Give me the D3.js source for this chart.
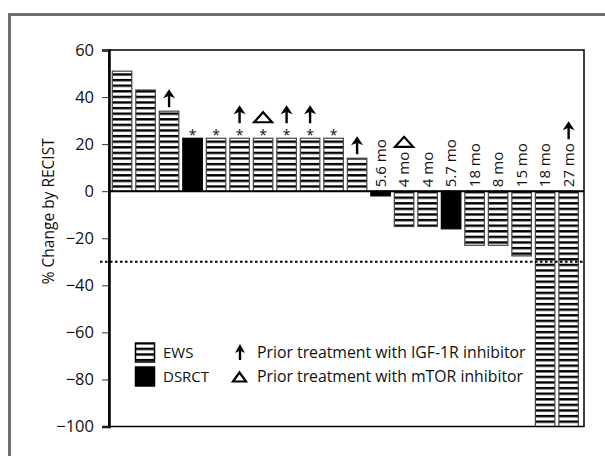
<!DOCTYPE html>
<html>
<head>
<meta charset="utf-8">
<script src="https://cdn.jsdelivr.net/npm/d3@7"></script>
<style>
  html, body { margin: 0; padding: 0; background: #fff; }
  svg { display: block; }
  text { font-family: "Open Sans", "Noto Sans", sans-serif; fill: #111; }
</style>
</head>
<body>
<svg id="chart" width="605" height="456"></svg>
<script>
// ---- data ----
const patients = ["1","2","3","4","5","6","7","8","9","10","11","12","13","14","15","16","17","18","19","20"];
const pctChange = [51, 43, 34, 22.5, 22.5, 22.5, 22.5, 22.5, 22.5, 22.5, 14, -2, -15, -15, -16, -23, -23, -27.5, -100, -100];
const tumorType = ["EWS","EWS","EWS","DSRCT","EWS","EWS","EWS","EWS","EWS","EWS","EWS","DSRCT","EWS","EWS","DSRCT","EWS","EWS","EWS","EWS","EWS"];
const duration = ["","","","","","","","","","","","5.6 mo","4 mo","4 mo","5.7 mo","18 mo","8 mo","15 mo","18 mo","27 mo"];
const asterisk = [0,0,0,1,1,1,1,1,1,1,0,0,0,0,0,0,0,0,0,0];
const priorIGF1R = [0,0,1,0,0,1,0,1,1,0,1,0,0,0,0,0,0,0,0,1];
const priorMTOR = [0,0,0,0,0,0,1,0,0,0,0,0,1,0,0,0,0,0,0,0];
const yTicks = [60, 40, 20, 0, -20, -40, -60, -80, -100];
const prThreshold = -30;
const yTitle = "% Change by RECIST";
const legendTypes = ["EWS", "DSRCT"];
const legendMarks = ["Prior treatment with IGF-1R inhibitor", "Prior treatment with mTOR inhibitor"];

(function () {
// ---- layout ----
const svg = d3.select("#chart");
const pLeft = 109, pRight = 584, pTop = 50, pBottom = 426.5;

const x = d3.scaleBand().domain(patients).range([pLeft, pRight])
  .paddingInner(0.17).paddingOuter(0.19).align(0.37);
const y = d3.scaleLinear().domain([-100, 60]).range([pBottom, pTop]);

// outer frame
svg.append("rect").attr("x", 9.5).attr("y", 14.5).attr("width", 640).attr("height", 500)
  .attr("fill", "none").attr("stroke", "#6e6e6e").attr("stroke-width", 3);

// stripe pattern
const defs = svg.append("defs");
const pat = defs.append("pattern").attr("id", "ews").attr("patternUnits", "userSpaceOnUse")
  .attr("width", 10).attr("height", 5.6).attr("y", 0.5);
pat.append("rect").attr("width", 10).attr("height", 5.6).attr("fill", "#fff");
pat.append("rect").attr("y", 0).attr("width", 10).attr("height", 2.4).attr("fill", "#000");

// bars
const data = patients.map((p, i) => ({p, v: pctChange[i], t: tumorType[i], d: duration[i],
  a: asterisk[i], igf: priorIGF1R[i], mtor: priorMTOR[i]}));

svg.append("g").selectAll("rect").data(data).join("rect")
  .attr("x", d => x(d.p))
  .attr("width", x.bandwidth())
  .attr("y", d => y(Math.max(0, d.v)))
  .attr("height", d => Math.abs(y(d.v) - y(0)))
  .attr("fill", d => d.t === "EWS" ? "url(#ews)" : "#000")
  .attr("stroke", d => d.t === "EWS" ? "#444" : "#000")
  .attr("stroke-width", 1.2);

// PR threshold dotted line
svg.append("line").attr("x1", 100).attr("x2", pRight).attr("y1", y(prThreshold)).attr("y2", y(prThreshold))
  .attr("stroke", "#000").attr("stroke-width", 2).attr("stroke-dasharray", "2.5,2.5");

// frame lines of plot
svg.append("rect").attr("x", pLeft).attr("y", pTop).attr("width", pRight - pLeft).attr("height", pBottom - pTop)
  .attr("fill", "none").attr("stroke", "#000").attr("stroke-width", 1.5);
svg.append("line").attr("x1", pLeft).attr("x2", pRight).attr("y1", y(0)).attr("y2", y(0))
  .attr("stroke", "#000").attr("stroke-width", 2);

// y axis
const yAxis = d3.axisLeft(y).tickValues(yTicks).tickSize(7).tickPadding(8)
  .tickFormat(d => d < 0 ? "\u2212" + Math.abs(d) : String(d));
const ga = svg.append("g").attr("transform", `translate(${pLeft},0)`).call(yAxis);
ga.select(".domain").attr("stroke", "#000").attr("stroke-width", 2.5);
ga.selectAll(".tick line").attr("stroke", "#333").attr("stroke-width", 1);
ga.selectAll(".tick text").attr("font-size", 16.5).attr("font-family", "'Open Sans', sans-serif").attr("fill", "#111");

svg.append("text").attr("transform", `translate(54,${(pTop + pBottom) / 2 - 27}) rotate(-90)`)
  .attr("text-anchor", "middle").attr("font-size", 15.5).text(yTitle);

// markers
function arrow(g, cx, yb, h, hw) {
  g.append("line").attr("x1", cx).attr("x2", cx).attr("y1", yb).attr("y2", yb - h + 6)
    .attr("stroke", "#000").attr("stroke-width", 2.4);
  g.append("path").attr("d", `M${cx - hw},${yb - h + 9}L${cx},${yb - h}L${cx + hw},${yb - h + 9}L${cx},${yb - h + 6.5}Z`).attr("fill", "#000");
}
function tri(g, cx, yb, w, h) {
  g.append("path").attr("d", `M${cx - w / 2},${yb}L${cx},${yb - h}L${cx + w / 2},${yb}Z`)
    .attr("fill", "none").attr("stroke", "#000").attr("stroke-width", 2.2).attr("stroke-linejoin", "miter");
}

const mg = svg.append("g");
data.forEach(d => {
  const cx = x(d.p) + x.bandwidth() / 2;
  let yt = y(Math.max(0, d.v)) - 4;
  if (d.d) {
    const t = mg.append("text").attr("transform", `translate(${cx + 5},${y(0) - 4}) rotate(-90)`)
      .attr("font-size", 15).attr("text-anchor", "start").text(d.d);
    yt = y(0) - 4 - t.node().getComputedTextLength() - 4;
  }
  if (d.a) {
    mg.append("text").attr("x", cx).attr("y", yt + 6).attr("text-anchor", "middle")
      .attr("font-size", 14).attr("fill", "#333").text("*");
    yt -= 11;
  }
  if (d.igf) arrow(mg, cx, yt, 18, 6);
  if (d.mtor) tri(mg, cx, yt - 1, 18, 10);
});

// legend
const lg = svg.append("g");
legendTypes.forEach((t, i) => {
  const yy = 343 + i * 24;
  lg.append("rect").attr("x", 135.5).attr("y", yy).attr("width", 19).attr("height", 19)
    .attr("fill", t === "EWS" ? "url(#ews)" : "#000").attr("stroke", "#000").attr("stroke-width", 1.5);
  lg.append("text").attr("x", 163).attr("y", yy + 14.5).attr("font-size", 15).text(t);
});
arrow(lg, 240, 360, 16, 5);
tri(lg, 239.5, 381.5, 13, 9);
legendMarks.forEach((t, i) => {
  lg.append("text").attr("x", 257).attr("y", 357.5 + i * 24.5).attr("font-size", 15.8).text(t);
});
})();
</script>
</body>
</html>
